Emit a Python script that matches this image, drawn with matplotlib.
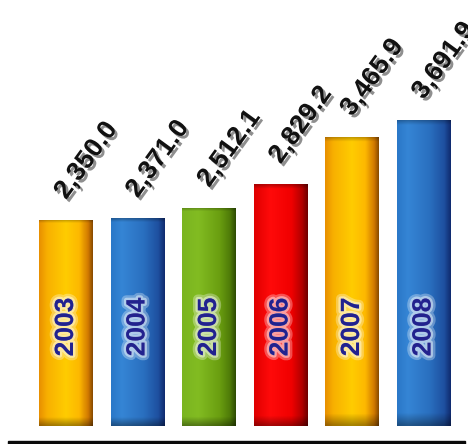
import numpy as np
import matplotlib
matplotlib.use("Agg")
import matplotlib.pyplot as plt
import matplotlib.patheffects as pe
from matplotlib.colors import to_rgb

# Yearly totals
years = ["2003", "2004", "2005", "2006", "2007", "2008"]
values = [2350.0, 2371.0, 2512.1, 2829.2, 3465.9, 3691.9]
bar_styles = ["orange", "blue", "green", "red", "orange", "blue"]

# the value axis does not start at zero; bars rise from this floor
floor = -425
y_lo, y_hi = -667, 5304

# Horizontal colour stops giving each bar its glossy, rounded look
gradients = {
    "orange": [(0.0, "#E89000"), (0.15, "#F8B000"), (0.5, "#FFCC00"),
               (0.75, "#FDB800"), (0.92, "#D07800"), (1.0, "#8A4C00")],
    "blue": [(0.0, "#2A78C8"), (0.2, "#3585D5"), (0.6, "#2A70C0"),
             (0.88, "#1E50A0"), (1.0, "#102C70")],
    "green": [(0.0, "#7AB520"), (0.3, "#82BC22"), (0.7, "#6A9E10"),
              (0.9, "#4E7A08"), (1.0, "#2F4D04")],
    "red": [(0.0, "#E00000"), (0.3, "#FF0A0A"), (0.7, "#F00000"),
            (0.9, "#B00000"), (1.0, "#700000")],
}


def gradient_image(stops, nx=64, ny=128):
    pos = np.array([s[0] for s in stops])
    cols = np.array([to_rgb(s[1]) for s in stops])
    t = np.linspace(0, 1, nx)
    row = np.stack([np.interp(t, pos, cols[:, k]) for k in range(3)], axis=-1)
    img = np.repeat(row[None, :, :], ny, axis=0)
    # darken the very bottom and the top edge a little
    v = np.linspace(0, 1, ny)  # 0 = bottom, 1 = top
    shade = 1 - 0.35 * np.clip(1 - v / 0.04, 0, 1)
    img = img * shade[:, None, None]
    top = np.clip((v - 0.985) / 0.015, 0, 1)
    img = img * (1 - 0.25 * top[:, None, None])
    return np.clip(img, 0, 1)


fig = plt.figure(figsize=(4.68, 4.44), dpi=100)
ax = fig.add_axes([0, 0, 1, 1])
ax.set_axis_off()

x = np.arange(len(years))
bars = ax.bar(x, np.array(values) - floor, bottom=floor, width=0.755,
              color="none", edgecolor="none", zorder=2)

for bar, style in zip(bars, bar_styles):
    x0 = bar.get_x()
    w = bar.get_width()
    im = ax.imshow(gradient_image(gradients[style]), origin="lower",
                   extent=(x0, x0 + w, bar.get_y(), bar.get_y() + bar.get_height()),
                   aspect="auto", zorder=2, interpolation="bilinear")
    im.set_clip_path(bar)

# value labels, slanted with a drop shadow
for xi, v in zip(x, values):
    ax.annotate(f"{v:,.1f}", xy=(xi, v), xytext=(0, 14),
                textcoords="offset points", rotation=54,
                rotation_mode="anchor", ha="left", va="baseline",
                fontsize=19, fontweight="bold", family="Liberation Sans",
                color="#111111", zorder=4,
                path_effects=[pe.withSimplePatchShadow(offset=(2, -2),
                                                       shadow_rgbFace="#444444",
                                                       alpha=0.6)])

# year labels inside the bars with a soft white glow
for xi, yr in zip(x, years):
    ax.text(xi, 906, yr, rotation=90, ha="center", va="center",
            fontsize=19, fontweight="bold", family="Liberation Sans",
            color="#22228E", zorder=4,
            path_effects=[pe.withStroke(linewidth=7, foreground="white", alpha=0.3),
                          pe.withStroke(linewidth=3.5, foreground="white", alpha=0.45)])

ax.set_xlim(-0.923, 5.622)
ax.set_ylim(y_lo, y_hi)

# black base line
ax.axhspan(y_lo, y_lo + 44, xmin=8 / 468, xmax=465 / 468, color="#0A0A0A", zorder=3)

fig.savefig("out.png", dpi=100, facecolor="white")
